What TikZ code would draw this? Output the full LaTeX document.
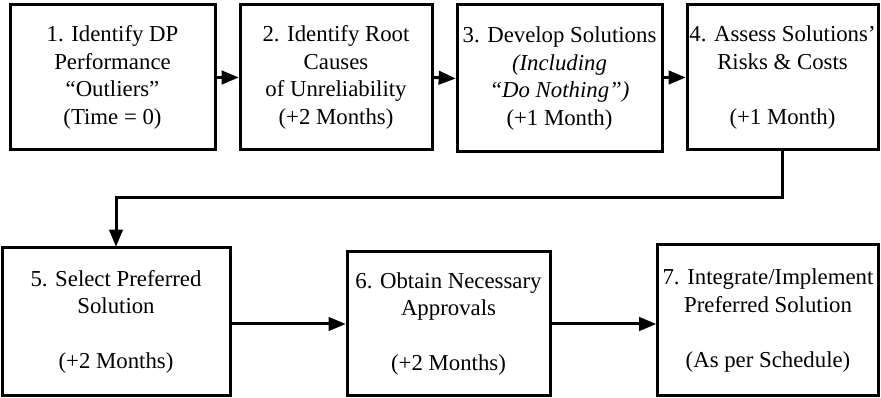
\documentclass[tikz,border=0pt]{standalone}
\usepackage{fontspec}
\setmainfont{Liberation Serif}
\usepackage{tikz}
\usetikzlibrary{positioning}
\usetikzlibrary{arrows}
\tikzstyle{every phase} = []
\tikzstyle{phase} = [draw, line width=3pt, inner sep=0pt, align=center, every phase]
\tikzstyle{link} = [>=triangle 45, ->, draw, line width=3pt]

\begin{document}
\begin{tikzpicture}[x=1pt, y=1pt, font=\fontsize{22.8}{27.5}\selectfont]
                    \useasboundingbox (0,0) rectangle (881,398);
                    % top row
                    \node[phase, minimum width=205, minimum height=145] (identify) at (112.5,320.5)
                        {1. Identify DP\\Performance\\“Outliers”\\(Time = 0)};
                    \node[phase, minimum width=192, minimum height=145] (rootcause) at (336,320.5)
                        {2. Identify Root\\Causes\\of Unreliability\\(+2 Months)};
                    \node[phase, minimum width=205, minimum height=147] (develop) at (559.5,319.5)
                        {3. Develop Solutions\\\textit{(Including}\\\textit{“Do Nothing”)}\\(+1 Month)};
                    \node[phase, minimum width=191, minimum height=145] (assess) at (782.5,320.5)
                        {4. Assess Solutions’\\Risks \& Costs\\[27.5pt](+1 Month)};

                    % bottom row
                    \node[phase, minimum width=228, minimum height=148] (select) at (116,76)
                        {5. Select Preferred\\Solution\\[27.5pt](+2 Months)};
                    \node[phase, minimum width=203, minimum height=144] (approve) at (448.5,74)
                        {6. Obtain Necessary\\Approvals\\[27.5pt](+2 Months)};
                    \node[phase, minimum width=221, minimum height=151] (implement) at (768,77.5)
                        {7. Integrate/Implement\\Preferred Solution\\[27.5pt](As per Schedule)};

                    \coordinate (bend) at (450,200);

                    \draw[link] (identify.east) -- (rootcause.west);
                    \draw[link] (rootcause.east) -- (develop.west);
                    \draw[link] (develop.east |- assess.west) -- (assess.west);
                    \draw[link] (assess.south) -- (assess.south |- bend) -| (select.north);
                    \draw[link] (select.east |- approve.west) -- (approve.west);
                    \draw[link] (approve.east) -- (approve.east -| implement.west);
                \end{tikzpicture}
\end{document}
